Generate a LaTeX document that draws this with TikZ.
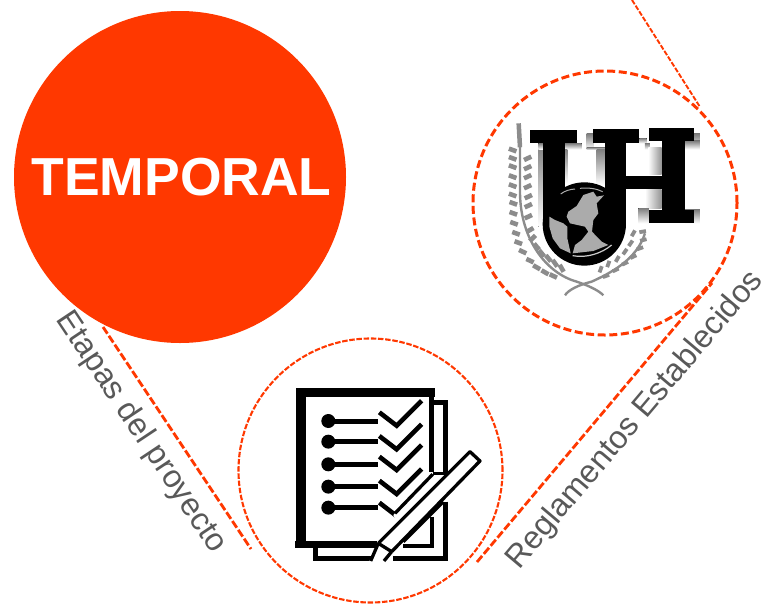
\documentclass[tikz,border=0pt]{standalone}
\usepackage{fontspec}
\setmainfont{Liberation Sans}
\definecolor{hot}{HTML}{FF3800}
\definecolor{txtgray}{HTML}{595959}
\definecolor{leaf}{HTML}{8C8C8C}
\definecolor{shade}{HTML}{A6A6A6}
\definecolor{land}{HTML}{ABABAB}
\tikzset{
  every node/.style={inner sep=0pt,outer sep=0pt},
  bigdisc/.style={circle,fill=hot,minimum size=332pt,text=white,font=\bfseries\fontsize{53.5}{60}\selectfont},
  ring/.style={circle,draw=hot,minimum size=264pt},
  ringthick/.style={ring,line width=3pt,dash pattern=on 8pt off 3.6pt},
  ringthin/.style={ring,line width=2.1pt,dash pattern=on 5.5pt off 1.7pt},
  link/.style={draw=hot,line width=2.8pt,dash pattern=on 8pt off 2.6pt},
  thinlink/.style={draw=hot,line width=1.9pt,dash pattern=on 5pt off 1.7pt},
  caption/.style={text=txtgray,anchor=base,font=\fontsize{32}{36}\selectfont},
  zoomA/.style={shift={(470pt,-60pt)},x=0.3333pt,y=-0.3333pt},
  zoomB/.style={shift={(230pt,-335pt)},x=0.3333pt,y=-0.3333pt},
  zoomD/.style={shift={(530pt,-170pt)},x=0.3333pt,y=-0.3333pt},
  ink/.style={draw=black,line width=5pt},
  inkmid/.style={draw=black,line width=4pt},
  inkthin/.style={draw=black,line width=3.3pt,line join=round},
  grain/.style={draw=leaf,line width=4.6pt},
}
\begin{document}
\begin{tikzpicture}[x=1pt,y=-1pt]
\useasboundingbox (0,0) rectangle (773,614);
\node[bigdisc] (temporal) at (180,177) {\hspace*{3pt}TEMPORAL};
\node[ringthick] (uh) at (605,203) {};
\node[ringthin] (list) at (370.5,470.5) {};
\coordinate (a1) at (103,327);
\coordinate (a2) at (251,549);
\draw[link] (a1) -- (a2);
\coordinate (b1) at (477,562);
\coordinate (b2) at (712,283);
\draw[link] (b1) -- (b2);
\coordinate (c1) at (632,0);
\coordinate (c2) at (700,107);
\draw[thinlink] (c1) -- (c2);
\node[caption,rotate=-56.3] (etapas) at (134,437) {Etapas del proyecto};
\node[caption,rotate=49.8] (regla) at (641.7,425.5) {Reglamentos Establecidos};

% --- UH logo ---
\begin{scope}[zoomA]
  % wheat stems
  \draw[leaf,line width=2.4pt] (150,260) -- (150,400) .. controls (152,540) and (230,640) .. (320,665) .. controls (365,680) and (390,695) .. (400,706);
  \draw[leaf,line width=2.4pt] (525,520) .. controls (500,600) and (420,640) .. (365,665) .. controls (325,675) and (295,690) .. (285,706);
  \draw[leaf,line width=4.5pt] (146,190) -- (150,262);
  % left branch, outer then inner
  \foreach \cx/\cy/\a in {128/270/20,128/295/20,128/320/20,128/350/20,128/377/20,128/405/20,130/430/20,130/460/20,132/490/20,138/520/20,145/548/20,158/575/25,180/602/25,200/622/30,225/637/30,250/648/25,
     173/295/-25,173/323/-25,173/350/-25,173/380/-25,175/410/-25,175/437/-25,175/470/-25,180/510/-30,188/535/-45,200/560/50,215/580/50,235/595/50,255/610/55,275/625/60}{
    \draw[grain] (\cx,\cy) ++(\a:12) -- ++(\a+180:24);
  }
  % right branch
  \foreach \cx/\cy/\a in {518/515/-10,520/540/-15,510/565/-20,490/590/-25,465/610/-25,437/630/-25,408/648/-20,
     490/520/-60,482/550/-55,465/575/-55,442/597/-60,415/612/-70,392/628/-70}{
    \draw[grain,line width=3.8pt] (\cx,\cy) ++(\a:10) -- ++(\a+180:20);
  }
  % shadows
  \fill[shade] (205,250) rectangle (222,500);
  \fill[shade] (205,250) rectangle (335,268);
  \fill[shade] (285,268) rectangle (292,370);
  \fill[shade] (350,222) rectangle (370,268);
  \fill[shade] (350,262) rectangle (405,270);
  \fill[shade] (380,268) rectangle (405,375);
  \fill[shade] (508,235) rectangle (530,250);
  \fill[shade] (525,250) rectangle (540,268);
  \shade[left color=white,right color=gray!85] (535,262) rectangle (575,345);
  \fill[shade] (672,222) rectangle (690,268);
  \fill[shade] (645,243) rectangle (690,268);
  \shade[left color=white,right color=gray!85] (525,390) rectangle (575,445);
  \fill[shade] (505,445) rectangle (537,490);
  \fill[shade] (645,450) rectangle (690,490);
  % U and H
  \fill (180,210) rectangle (320,250);
  \fill (368,208) rectangle (508,250);
  \fill (218,250) rectangle (285,490);
  \fill (405,250) rectangle (468,490);
  \fill (468,348) rectangle (575,388);
  \fill (575,205) rectangle (645,488);
  \fill (537,205) rectangle (672,243);
  \fill (537,450) rectangle (672,488);
  \fill (343,492) circle[radius=125];
\end{scope}
% globe
\begin{scope}[zoomD]
  \fill[land] (115,125) -- (140,108) -- (160,75) -- (190,65) -- (200,80) -- (222,76) -- (200,100) -- (205,130) -- (190,150) -- (186,185) -- (215,215) -- (235,225) -- (190,243) -- (128,250) -- (135,225) -- (155,210) -- (175,185) -- (165,170) -- (120,160) -- (110,140) -- cycle;
  \fill[land] (58,140) -- (75,150) -- (100,160) -- (112,170) -- (112,205) -- (122,250) -- (90,235) -- (68,205) -- (58,170) -- cycle;
  \draw[land,line width=1pt] (92,72) .. controls (105,62) and (120,58) .. (135,57);
  \draw[land,line width=1pt] (150,55) .. controls (175,52) and (200,56) .. (218,65);
  \draw[black!20,line width=1.2pt] (128,257) .. controls (170,265) and (215,250) .. (245,225);
\end{scope}

% --- checklist ---
\begin{scope}[zoomB]
  % back sheet
  \draw[ink] (612,203) -- (648,203) -- (648,410);
  \draw[ink] (648,500) -- (648,670) -- (490,670);
  \draw[ink] (258,640) -- (258,670) -- (425,670);
  \draw[ink] (606,185) -- (606,410);
  \draw[inkmid] (605,545) -- (605,632) -- (520,632);
  % front sheet
  \fill (198,158) rectangle (615,185);
  \fill (198,158) rectangle (228,640);
  \fill (195,618) rectangle (440,640);
  % rows
  \foreach \yy in {258,320,388,455,518}{
    \fill (295,\yy) circle[radius=21];
    \draw[line width=5pt] (295,\yy) -- (445,\yy);
  }
  \foreach \yb in {232,303,365,437,503}{
    \draw[line width=4.6pt] (448,\yb) -- (500,\yb+40) -- (575,\yb-35);
  }
  % pencil
  \fill[white] (720,350) -- (750,378) -- (485,650) -- (445,678) -- (418,678) -- (445,625) -- cycle;
  \fill[white] (610,415) -- (650,415) -- (500,560) -- (490,540) -- cycle;
  \draw[inkthin] (445,625) -- (720,350) -- (750,378) -- (485,650);
  \draw[inkthin] (445,625) -- (485,650);
  \draw[inkthin] (445,625) -- (422,678);
  \draw[inkthin] (485,650) -- (462,678);
  \draw[inkthin] (608,418) -- (495,535);
  \draw[inkthin] (608,415) -- (650,415);
  \draw[inkthin] (640,500) -- (520,620);
\end{scope}
\end{tikzpicture}
\end{document}
